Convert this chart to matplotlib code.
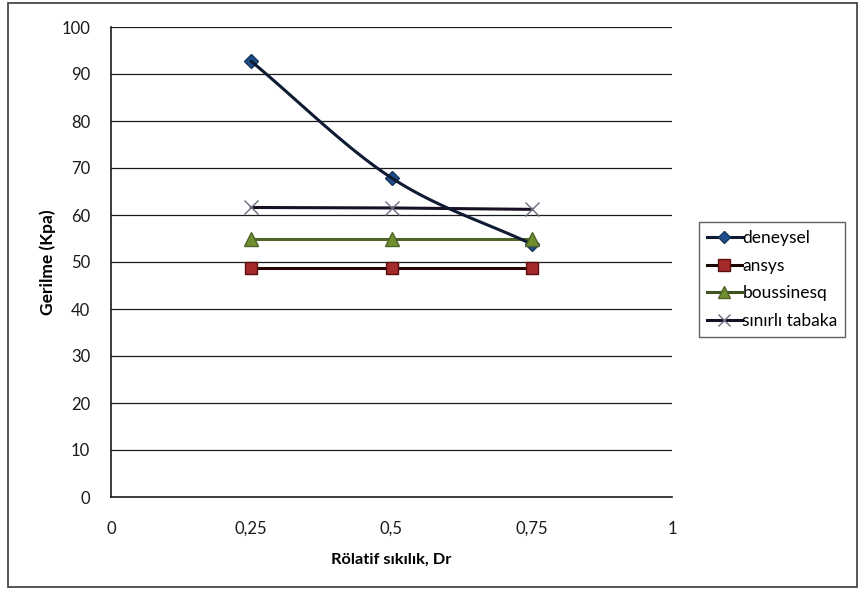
import numpy as np
import matplotlib
matplotlib.use("Agg")
import matplotlib.pyplot as plt
from matplotlib.patches import Rectangle

plt.rcParams['font.family'] = ['Lato', 'DejaVu Sans']

dr = [0.25, 0.5, 0.75]
deneysel = [92.7, 67.9, 53.8]
ansys = [48.7, 48.7, 48.7]
boussinesq = [54.8, 54.8, 54.8]
sinirli = [61.6, 61.5, 61.2]

x_ticks = [0, 0.25, 0.5, 0.75, 1]
x_tick_labels = ["0", "0,25", "0,5", "0,75", "1"]
y_ticks = list(range(0, 101, 10))


def smooth(xs, ys, n=60):
    """Catmull-Rom curve through the points (smoothed line style)."""
    xs = np.asarray(xs, float)
    ys = np.asarray(ys, float)
    px = np.concatenate([[2 * xs[0] - xs[1]], xs, [2 * xs[-1] - xs[-2]]])
    py = np.concatenate([[2 * ys[0] - ys[1]], ys, [2 * ys[-1] - ys[-2]]])
    outx, outy = [], []
    t = np.linspace(0, 1, n)
    for i in range(1, len(px) - 2):
        for arr, out in ((px, outx), (py, outy)):
            p0, p1, p2, p3 = arr[i - 1], arr[i], arr[i + 1], arr[i + 2]
            seg = 0.5 * ((2 * p1) + (-p0 + p2) * t
                         + (2 * p0 - 5 * p1 + 4 * p2 - p3) * t ** 2
                         + (-p0 + 3 * p1 - 3 * p2 + p3) * t ** 3)
            out.extend(seg)
    return np.array(outx), np.array(outy)


fig = plt.figure(figsize=(8.64, 5.97), dpi=100)
fig.patch.set_facecolor("white")
fig.patches.append(Rectangle((8 / 864, 1 - 587 / 597), 849 / 864, 584 / 597,
                             transform=fig.transFigure, fill=False,
                             edgecolor="#3a3a3a", linewidth=1.2))

ax = fig.add_axes([111 / 864, 1 - 497 / 597, 561 / 864, 470 / 597])
ax.set_xlim(0, 1)
ax.set_ylim(0, 100)

for y in y_ticks[1:]:
    ax.axhline(y, color="#1a1a1a", linewidth=0.9, zorder=1)

lw = 2.2
sx, sy = smooth(dr, deneysel)
ax.plot(sx, sy, color="#0f1a33", linewidth=lw, zorder=5)
ax.plot(dr, ansys, color="#2a0505", linewidth=lw, zorder=3)
ax.plot(dr, boussinesq, color="#4f6228", linewidth=lw, zorder=3)
ax.plot(dr, sinirli, color="#1a1025", linewidth=lw, zorder=3)

ax.plot(dr, deneysel, linestyle="none", marker="D", markersize=7.5,
        markerfacecolor="#1f4e8c", markeredgecolor="#17365d", zorder=4)
ax.plot(dr, ansys, linestyle="none", marker="s", markersize=9,
        markerfacecolor="#a52a2a", markeredgecolor="#5c0f0f", zorder=4)
ax.plot(dr, boussinesq, linestyle="none", marker="^", markersize=10,
        markerfacecolor="#6f8f2e", markeredgecolor="#4f6228", zorder=6)
ax.plot(dr, sinirli, linestyle="none", marker="x", markersize=10,
        markeredgewidth=1.0, color="#6b6b80", zorder=4)

for s in ("top", "right"):
    ax.spines[s].set_visible(False)
for s in ("left", "bottom"):
    ax.spines[s].set_color("#1a1a1a")
    ax.spines[s].set_linewidth(1.2)

ax.set_xticks(x_ticks)
ax.set_xticklabels(x_tick_labels)
ax.set_yticks(y_ticks)
ax.tick_params(axis="both", length=0, labelsize=12, colors="#1a1a1a")
ax.tick_params(axis="x", pad=17)
ax.tick_params(axis="y", pad=15)

ax.set_xlabel("Rölatif sıkılık, Dr", fontsize=11.8, fontweight="bold", labelpad=12)
ax.set_ylabel("Gerilme (Kpa)", fontsize=12.5, fontweight="bold", labelpad=4)

handles = [
    plt.Line2D([], [], color="#0f1a33", lw=lw, marker="D", markersize=6,
               markerfacecolor="#1f4e8c", markeredgecolor="#17365d"),
    plt.Line2D([], [], color="#1a0505", lw=lw, marker="s", markersize=8,
               markerfacecolor="#a52a2a", markeredgecolor="#5c0f0f"),
    plt.Line2D([], [], color="#3f5220", lw=lw, marker="^", markersize=8,
               markerfacecolor="#6f8f2e", markeredgecolor="#4f6228"),
    plt.Line2D([], [], color="#1a1025", lw=lw, marker="x", markersize=9,
               markeredgewidth=1.0, markeredgecolor="#6b6b80"),
]
labels = ["deneysel", "ansys", "boussinesq", "sınırlı tabaka"]
leg = fig.legend(handles, labels, loc="upper left",
                 bbox_to_anchor=(699 / 864, 1 - 222 / 597),
                 frameon=True, fancybox=False, edgecolor="#3a3a3a",
                 fontsize=12.5, handlelength=2.0, handletextpad=0.05,
                 labelspacing=0.68, borderpad=0.45, borderaxespad=0)
leg.get_frame().set_linewidth(1.0)

fig.savefig("out.png", dpi=100, facecolor="white")
